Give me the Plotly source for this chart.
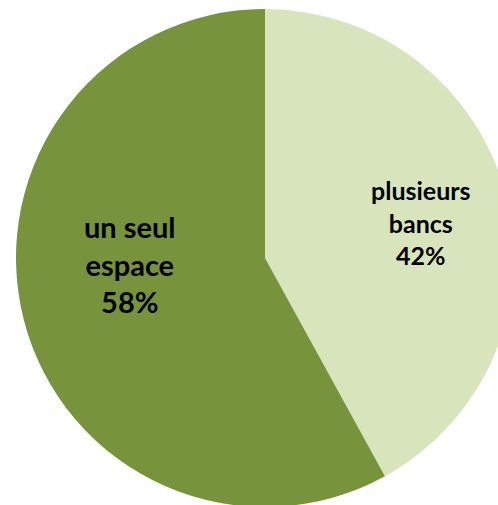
import plotly.graph_objects as go

labels = ["plusieurs<br>bancs", "un seul<br>espace"]
values = [42, 58]
colors = ["#d8e4bc", "#77933c"]

W, H = 530, 520

fig = go.Figure(
    go.Pie(
        labels=labels,
        values=values,
        sort=False,
        direction="clockwise",
        rotation=0,
        marker=dict(colors=colors, line=dict(width=0)),
        textinfo="none",
        hoverinfo="label+percent",
        domain=dict(x=[16 / W, 514 / W], y=[(H - 507) / H, (H - 9) / H]),
    )
)

total = sum(values)
# label positions (paper coords) and font sizes per slice
label_pos = [(421 / W, (H - 222) / H, 25), (130 / W, (H - 264) / H, 29)]
for lab, v, (x, y, size) in zip(labels, values, label_pos):
    fig.add_annotation(
        x=x, y=y, xref="paper", yref="paper",
        xanchor="center", yanchor="middle",
        text=f"{lab}<br>{round(100 * v / total)}%",
        showarrow=False,
        font=dict(family="Lato", size=size, color="black", weight="bold"),
    )

fig.update_layout(
    width=W,
    height=H,
    showlegend=False,
    margin=dict(l=0, r=0, t=0, b=0),
    paper_bgcolor="white",
)

fig.write_html(
    "out.html",
    config={"displayModeBar": False},
    post_script="document.body.style.margin='0';document.body.style.overflow='hidden';",
)
